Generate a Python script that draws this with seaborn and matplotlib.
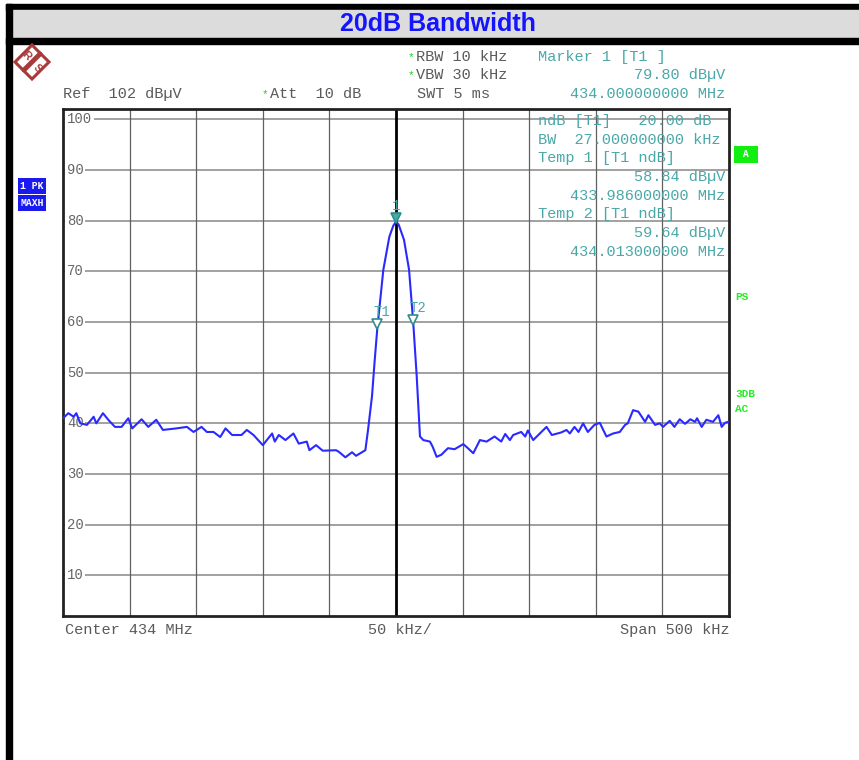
import matplotlib
matplotlib.use("Agg")
import matplotlib.pyplot as plt
import matplotlib.transforms as mtransforms
from matplotlib.patches import Rectangle, Polygon
import seaborn as sns
import pandas as pd

# ---------------- data ----------------
freq_offset_khz = [-250, -246, -242, -240, -237, -232, -227, -225, -220, -216, -211, -206,
                   -201, -198, -191, -186, -180, -175, -165, -157, -152, -146, -142, -137,
                   -132, -128, -123, -116, -112, -107, -100, -93, -91, -88, -83, -77, -73,
                   -67, -65, -60, -55, -45, -43, -38, -33, -30, -23, -21, -18, -16, -14,
                   -9.5, -5, -2, 0, 2, 6, 9.8, 13, 15.5, 18, 20.5, 25.5, 27.5, 30.5, 34,
                   39, 44, 50.5, 54, 58, 63, 68, 74, 79, 82, 85.5, 88, 94, 97, 99, 103,
                   108, 113, 117, 124, 128, 130.5, 134, 137, 140.5, 144, 149, 153, 158,
                   163, 168, 172, 174, 178, 182, 187, 189.5, 194.5, 198, 200.5, 205.5,
                   209, 213, 217, 221, 224.5, 226, 229.5, 233, 238, 242, 244.5, 247, 249.5]
level_dbuv = [41.0, 42.0, 41.3, 42.0, 40.0, 39.7, 41.3, 40.0, 42.0, 40.7, 39.3, 39.3,
              41.0, 39.0, 40.8, 39.3, 40.7, 38.7, 39.0, 39.3, 38.3, 39.3, 38.3, 38.3,
              37.3, 39.0, 37.7, 37.7, 38.7, 37.7, 35.7, 38.0, 36.4, 37.7, 36.7, 38.0, 36.0,
              36.4, 34.7, 35.7, 34.6, 34.7, 34.4, 33.3, 34.3, 33.6, 34.7, 38.7, 45.4, 52.4, 58.84,
              70.3, 76.8, 79.0, 79.8, 79.2, 76.2, 70.3, 59.64, 49.5, 37.4, 36.7, 36.4, 35.4, 33.4, 33.8,
              35.1, 34.9, 35.9, 35.1, 34.1, 36.7, 36.4, 37.4, 36.4, 37.9, 36.7, 37.7, 38.3, 37.4, 38.6, 36.7,
              38.0, 39.3, 37.7, 38.2, 38.7, 38.0, 39.3, 38.3, 40.0, 38.3, 39.7, 40.1, 37.4,
              38.0, 38.3, 39.7, 40.0, 42.6, 42.3, 40.3, 41.6, 39.7, 40.0, 39.3, 40.5,
              39.3, 40.8, 39.9, 40.8, 40.3, 41.0, 39.3, 40.7, 40.3, 41.6, 39.3, 40.1, 40.3]

marker_names = ["1", "T1", "T2"]
marker_freq_khz = [0.0, -14.0, 13.0]
marker_level = [79.80, 58.84, 59.64]

y_ticks = [10, 20, 30, 40, 50, 60, 70, 80, 90, 100]
x_grid = [-250, -200, -150, -100, -50, 0, 50, 100, 150, 200, 250]

# ---------------- figure ----------------
sns.set_style("white")
plt.rcParams["font.family"] = ["Liberation Mono", "DejaVu Sans Mono"]

W, H = 859, 760
fig = plt.figure(figsize=(W / 100, H / 100), dpi=100)
fig.patch.set_facecolor("white")


def fx(x):
    return x / W


def fy(y):
    return 1 - y / H


# frame elements
fig.patches.append(Rectangle((fx(6), fy(10)), fx(W - 6), 6 / H, transform=fig.transFigure,
                             color="black", zorder=0))
fig.patches.append(Rectangle((fx(12), fy(38)), fx(W - 12), 28 / H, transform=fig.transFigure,
                             color="#dcdcdc", zorder=0))
fig.patches.append(Rectangle((fx(6), fy(44)), fx(W - 6), 6 / H, transform=fig.transFigure,
                             color="black", zorder=0))
fig.patches.append(Rectangle((fx(6), 0), fx(6), fy(4), transform=fig.transFigure,
                             color="black", zorder=0))

fig.text(fx(438), fy(24), "20dB Bandwidth", ha="center", va="center", fontsize=18,
         fontweight="bold", color="#1414ff", family="Liberation Sans")

# R&S logo
cx, cy, r = 32, 62, 17
red = "#a83a3a"
fig.patches.append(Polygon([(fx(cx), fy(cy - r)), (fx(cx + r), fy(cy)), (fx(cx), fy(cy + r)),
                            (fx(cx - r), fy(cy))], closed=True, transform=fig.transFigure,
                           facecolor="white", edgecolor=red, lw=2.2))
fig.lines.append(plt.Line2D([fx(cx + 8), fx(cx - 8)], [fy(cy - 8), fy(cy + 8)],
                            transform=fig.transFigure, color=red, lw=3.5))
fig.text(fx(cx - 6), fy(cy - 6), "R", ha="center", va="center", fontsize=8, color=red,
         fontweight="bold", rotation=-45, family="Liberation Sans")
fig.text(fx(cx + 5), fy(cy + 6), "S", ha="center", va="center", fontsize=8, color=red,
         fontweight="bold", rotation=-45, family="Liberation Sans")

# header texts
gray = "#5a5a5a"
teal = "#4aa8a8"
green = "#22cc22"
fs = 11
fig.text(fx(408), fy(57), "*", ha="left", va="center", fontsize=8, color=green)
fig.text(fx(416), fy(57), "RBW 10 kHz", ha="left", va="center", fontsize=fs, color=gray)
fig.text(fx(408), fy(75), "*", ha="left", va="center", fontsize=8, color=green)
fig.text(fx(416), fy(75), "VBW 30 kHz", ha="left", va="center", fontsize=fs, color=gray)
fig.text(fx(417), fy(94), "SWT 5 ms", ha="left", va="center", fontsize=fs, color=gray)
fig.text(fx(63), fy(94), "Ref  102 dBµV", ha="left", va="center", fontsize=fs, color=gray)
fig.text(fx(262), fy(94), "*", ha="left", va="center", fontsize=8, color=green)
fig.text(fx(270), fy(94), "Att  10 dB", ha="left", va="center", fontsize=fs, color=gray)
fig.text(fx(538), fy(57), "Marker 1 [T1 ]", ha="left", va="center", fontsize=fs, color=teal)
fig.text(fx(725), fy(75), "79.80 dBµV", ha="right", va="center", fontsize=fs, color=teal)
fig.text(fx(725), fy(94), "434.000000000 MHz", ha="right", va="center", fontsize=fs, color=teal)

# axes
ax = fig.add_axes([fx(63), fy(616), (729 - 63) / W, (616 - 109) / H])
df = pd.DataFrame({"freq": freq_offset_khz, "level": level_dbuv})
sns.lineplot(data=df, x="freq", y="level", ax=ax, color="#2a2aff", lw=1.5,
             sort=False, estimator=None, zorder=5)
ax.set_xlim(-250, 250)
ax.set_ylim(2, 102)
ax.set_xlabel("")
ax.set_ylabel("")
ax.set_xticks([])
ax.set_yticks(y_ticks)
ax.tick_params(axis="y", direction="in", length=4, width=1, color="#666666", labelleft=False)
for s in ax.spines.values():
    s.set_color("#222222")
    s.set_linewidth(2)

for yv in y_ticks:
    ax.axhline(yv, color="#9a9a9a", lw=1.3, zorder=1)
    ax.text(-247, yv, str(yv), ha="left", va="center", fontsize=10, color="#666666",
            zorder=2, bbox=dict(facecolor="white", edgecolor="none", pad=1.2))
for xv in x_grid[1:-1]:
    if xv == 0:
        ax.axvline(xv, color="black", lw=2, zorder=1)
    else:
        ax.axvline(xv, color="#606060", lw=0.9, zorder=1)

# marker info inside the plot
info_left = [("ndB [T1]   20.00 dB", 121), ("BW  27.000000000 kHz", 140),
             ("Temp 1 [T1 ndB]", 158), ("Temp 2 [T1 ndB]", 214)]
for t, yy in info_left:
    fig.text(fx(538), fy(yy), t, ha="left", va="center", fontsize=fs, color=teal, zorder=3)
info_right = [("58.84 dBµV", 177), ("433.986000000 MHz", 196),
              ("59.64 dBµV", 233), ("434.013000000 MHz", 252)]
for t, yy in info_right:
    fig.text(fx(725), fy(yy), t, ha="right", va="center", fontsize=fs, color=teal, zorder=3)

# markers
tri = mtransforms.offset_copy(ax.transData, fig=fig, x=0, y=4, units="dots")
for name, f, lv in zip(marker_names, marker_freq_khz, marker_level):
    face = teal if name == "1" else "white"
    ax.plot([f], [lv], marker="v", ms=7, mfc=face, mec="#2e8e8e", mew=1.2,
            transform=tri, zorder=6, linestyle="none")
    dx = 0 if name == "1" else 3.5
    ax.annotate(name, (f, lv), xytext=(dx, 11.5), textcoords="offset points",
                ha="center", va="center", fontsize=10, color=teal, zorder=7)

# bottom labels
fig.text(fx(65), fy(630), "Center 434 MHz", ha="left", va="center", fontsize=fs, color=gray)
fig.text(fx(400), fy(630), "50 kHz/", ha="center", va="center", fontsize=fs, color=gray)
fig.text(fx(729), fy(630), "Span 500 kHz", ha="right", va="center", fontsize=fs, color=gray)

# left side boxes
for t, yy in [("1 PK", 186), ("MAXH", 203)]:
    fig.text(fx(32), fy(yy), t, ha="center", va="center", fontsize=7, color="white",
             fontweight="bold",
             bbox=dict(facecolor="#1a1aee", edgecolor="none", pad=1.8))

# right side indicators
fig.text(fx(746), fy(154), " A ", ha="center", va="center", fontsize=7, color="white",
         fontweight="bold", bbox=dict(facecolor="#11ee11", edgecolor="none", pad=2.5))
for t, yy in [("PS", 297), ("3DB", 394), ("AC", 409)]:
    fig.text(fx(735), fy(yy), t, ha="left", va="center", fontsize=8, color="#22ee22",
             fontweight="bold")

fig.savefig("out.png", dpi=100)
